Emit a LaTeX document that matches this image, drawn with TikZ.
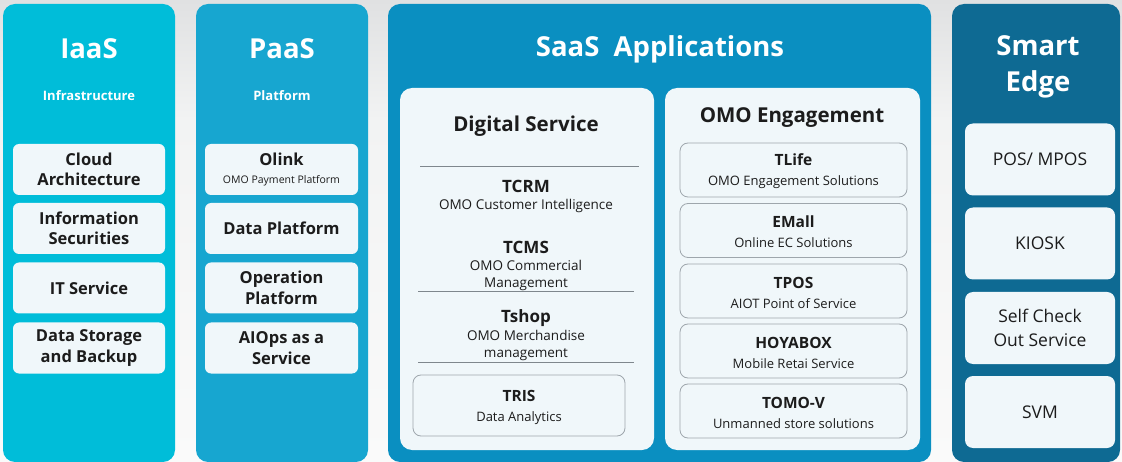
\documentclass[tikz,border=0pt]{standalone}
\usepackage{fontspec}
\setmainfont{Open Sans}
\definecolor{bgtop}{HTML}{E0E1E2}
\definecolor{bgmid}{HTML}{F2F3F3}
\definecolor{bgbot}{HTML}{FAFAFA}
\definecolor{iaas}{HTML}{00BDD9}
\definecolor{paas}{HTML}{17A6D0}
\definecolor{saas}{HTML}{0A8FC1}
\definecolor{edge}{HTML}{0E6A93}
\definecolor{boxfill}{HTML}{F0F7FA}
\definecolor{txt}{HTML}{1C1C1C}
\definecolor{boxline}{HTML}{9EA6AC}
\definecolor{rule}{HTML}{7F878D}
\tikzset{
  col/.style={rounded corners=12pt, draw=none, inner sep=0pt},
  coltitle/.style={text=white, font=\bfseries\fontsize{27.5}{32}\selectfont, align=center, inner sep=0pt},
  colsub/.style={text=white, font=\bfseries\fontsize{13}{14}\selectfont, inner sep=0pt},
  ibox/.style={fill=boxfill, rounded corners=6pt, minimum width=152pt, minimum height=51pt,
     align=center, text=txt, inner sep=0pt, font=\bfseries\fontsize{16.5}{20.5}\selectfont},
  panel/.style={fill=boxfill, rounded corners=12pt, inner sep=0pt},
  ptitle/.style={text=txt, font=\bfseries\fontsize{20.5}{24}\selectfont, inner sep=0pt},
  bigname/.style={text=txt, font=\bfseries\fontsize{17}{20}\selectfont, inner sep=0pt},
  subname/.style={text=txt, font=\fontsize{13.5}{17}\selectfont, align=center, inner sep=0pt},
  obox/.style={fill=boxfill, draw=boxline, line width=0.8pt, rounded corners=8pt,
     minimum width=227pt, minimum height=54pt, inner sep=0pt, align=center, text=txt,
     font=\fontsize{13}{20}\selectfont},
  otext/.style={align=center, text=txt, inner sep=0pt, font=\fontsize{13}{20}\selectfont},
  ebox/.style={fill=boxfill, rounded corners=8pt, minimum width=150pt, minimum height=72pt,
     inner sep=0pt, align=center, text=txt, font=\fontsize{17.5}{24}\selectfont},
  sep/.style={draw=rule, line width=1pt}
}
\newcommand{\itemnm}[1]{{\bfseries\fontsize{15.5}{20}\selectfont #1}}
\newcommand{\itemsb}[1]{{\fontsize{13}{20}\selectfont #1}}
\begin{document}
\begin{tikzpicture}[x=1pt,y=-1pt]
\useasboundingbox (0,0) rectangle (1122,462);
\begin{scope}[y=1pt]
\shade[top color=bgtop, bottom color=bgmid] (0,-120) rectangle (1122,0);
\shade[top color=bgmid, bottom color=bgbot] (0,-462) rectangle (1122,-120);
\end{scope}

% columns
\node[col, fill=iaas, minimum width=172pt, minimum height=458pt] (iaas) at (89,233) {};
\node[col, fill=paas, minimum width=172pt, minimum height=458pt] (paas) at (282,233) {};
\node[col, fill=saas, minimum width=543pt, minimum height=458pt] (saas) at (659.5,233) {};
\node[col, fill=edge, minimum width=168pt, minimum height=458pt] (edge) at (1036,233) {};

% IaaS
\node[coltitle] (iaasT) at (89,49) {IaaS};
\node[colsub] (iaasS) at (89,96) {Infrastructure};
\node[ibox] (ca) at (89,169.5) {Cloud\\Architecture};
\node[ibox] (is) at (89,228.5) {Information\\Securities};
\node[ibox] (its) at (89,288) {IT Service};
\node[ibox] (dsb) at (89,348) {Data Storage\\and Backup};

% PaaS
\node[coltitle] (paasT) at (282,49) {PaaS};
\node[colsub] (paasS) at (282,96) {Platform};
\node[ibox, minimum width=153pt] (olink) at (281.5,169.5) {Olink\\[-3pt]{\mdseries\fontsize{10.5}{13}\selectfont OMO Payment Platform}};
\node[ibox, minimum width=153pt] (dp) at (281.5,228.5) {Data Platform};
\node[ibox, minimum width=153pt] (op) at (281.5,288) {Operation\\Platform};
\node[ibox, minimum width=153pt] (aiops) at (281.5,348) {AIOps as a\\Service};

% SaaS
\node[coltitle] (saasT) at (660,49) {SaaS\ \ Applications};
\node[panel, minimum width=254pt, minimum height=362pt] (dsp) at (527,269) {};
\node[panel, minimum width=255pt, minimum height=362pt] (omop) at (792.5,269) {};

\node[ptitle] (dsT) at (526,126) {Digital Service};
\draw[sep] (420,167) -- (639,167);
\node[bigname] (tcrm) at (526,186) {TCRM};
\node[subname] (tcrmS) at (526,206) {OMO Customer Intelligence};
\node[bigname] (tcms) at (526,247) {TCMS};
\node[subname] (tcmsS) at (526,275) {OMO Commercial\\Management};
\draw[sep] (418,292) -- (634,292);
\node[bigname] (tshop) at (526,318) {Tshop};
\node[subname] (tshopS) at (526,345.5) {OMO Merchandise\\management};
\draw[sep] (418,362) -- (634,362);
\node[obox, minimum width=212pt, minimum height=61pt] (tris) at (519,405.5) {};
\node[otext] (trisT) at (519,407) {\itemnm{TRIS}\\\itemsb{Data Analytics}};

\node[ptitle] (omoT) at (792,118) {OMO Engagement};
\node[obox] (tlife) at (793.5,170) {};
\node[otext] (tlifeT) at (793.5,171.5) {\itemnm{TLife}\\\itemsb{OMO Engagement Solutions}};
\node[obox] (emall) at (793.5,230.5) {};
\node[otext] (emallT) at (793.5,232) {\itemnm{EMall}\\\itemsb{Online EC Solutions}};
\node[obox] (tpos) at (793.5,291) {};
\node[otext] (tposT) at (793.5,292.5) {\itemnm{TPOS}\\\itemsb{AIOT Point of Service}};
\node[obox] (hoya) at (793.5,351) {};
\node[otext] (hoyaT) at (793.5,352.5) {\itemnm{HOYABOX}\\\itemsb{Mobile Retai Service}};
\node[obox] (tomo) at (793.5,411) {};
\node[otext] (tomoT) at (793.5,412.5) {\itemnm{TOMO-V}\\\itemsb{Unmanned store solutions}};

% Smart Edge
\node[coltitle, font=\bfseries\fontsize{27.5}{36}\selectfont] (edgeT) at (1038,67) {Smart\\Edge};
\node[ebox] (pos) at (1040,159.5) {POS/ MPOS};
\node[ebox] (kiosk) at (1040,243.5) {KIOSK};
\node[ebox] (sco) at (1040,328) {Self Check\\Out Service};
\node[ebox] (svm) at (1040,412) {SVM};
\end{tikzpicture}
\end{document}
